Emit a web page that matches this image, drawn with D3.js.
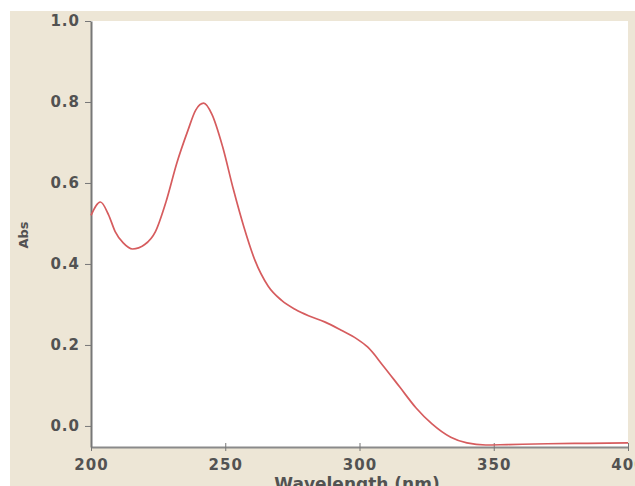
<!doctype html>
<html>
<head>
    <title>UV Spectrum</title>
    <meta charset="utf-8">
    <style>
        body { margin: 0; background: #fff; }
        svg { display: block; }
        .tick text { font-family: "DejaVu Sans", sans-serif; font-weight: bold; fill: #525252; }
    </style>
    <script src="https://d3js.org/d3.v7.min.js"></script>
</head>
<body>
    <svg width="635" height="486"></svg>
    <script>
        /* spectrum */
        var wavelengths = [200, 203.5, 206.5, 209, 212, 215.5, 220, 224, 228, 232, 236, 239, 242, 245, 249, 253, 257, 261, 266, 271, 276, 281, 287, 293, 299, 303, 309, 315, 321, 327, 334, 340, 347, 355, 370, 385, 400];
        var absorbance  = [0.52, 0.553, 0.522, 0.48, 0.452, 0.437, 0.448, 0.48, 0.555, 0.65, 0.728, 0.78, 0.797, 0.77, 0.69, 0.585, 0.49, 0.41, 0.345, 0.31, 0.288, 0.272, 0.257, 0.237, 0.215, 0.195, 0.147, 0.096, 0.045, 0.005, -0.028, -0.042, -0.047, -0.046, -0.044, -0.043, -0.042];
        var xTicks = [200, 250, 300, 350, 400];
        var yTicks = [0.0, 0.2, 0.4, 0.6, 0.8, 1.0];

        var data = wavelengths.map(function(w, i) { return {w: w, a: absorbance[i]}; });

        var svg = d3.select("svg");
        var plotLeft = 91, plotRight = 628, plotTop = 21, plotBottom = 447;

        // beige frame
        svg.append("rect").attr("x", 10).attr("y", 11).attr("width", 625).attr("height", 475).attr("fill", "#ede6d6");
        svg.append("rect").attr("x", plotLeft).attr("y", plotTop).attr("width", plotRight - plotLeft).attr("height", plotBottom - plotTop).attr("fill", "#ffffff");

        var x = d3.scaleLinear().domain([200, 400]).range([plotLeft, plotRight]);
        var y = d3.scaleLinear().domain([-0.052, 1.0]).range([plotBottom, plotTop]);

        var xAxis = svg.append("g")
            .attr("transform", "translate(0," + plotBottom + ")")
            .call(d3.axisBottom(x).tickValues(xTicks).tickSize(4).tickSizeOuter(0).tickFormat(d3.format("d")));
        xAxis.selectAll(".tick line").attr("y1", -4).attr("stroke", "#777");
        xAxis.selectAll(".tick text").attr("font-size", 15).attr("letter-spacing", 1).attr("y", 11).attr("dy", "0.8em");
        xAxis.select(".domain").attr("stroke", "#8a8a8a").attr("stroke-width", 2);

        var yAxis = svg.append("g")
            .attr("transform", "translate(" + plotLeft + ",0)")
            .call(d3.axisLeft(y).tickValues(yTicks).tickSize(6).tickSizeOuter(0).tickFormat(d3.format(".1f")));
        yAxis.selectAll(".tick line").attr("stroke", "#777");
        yAxis.selectAll(".tick text").attr("font-size", 15).attr("x", -11).attr("letter-spacing", 1);
        yAxis.select(".domain").attr("stroke", "#777").attr("stroke-width", 2);

        var line = d3.line()
            .x(function(d) { return x(d.w); })
            .y(function(d) { return y(d.a); })
            .curve(d3.curveMonotoneX);

        svg.append("path")
            .datum(data)
            .attr("fill", "none")
            .attr("stroke", "#d65c5e")
            .attr("stroke-width", 1.7)
            .attr("d", line);

        svg.append("text")
            .attr("transform", "translate(28,235) rotate(-90)")
            .attr("text-anchor", "middle")
            .attr("font-family", "'DejaVu Sans', sans-serif")
            .attr("font-weight", "bold")
            .attr("font-size", 13)
            .attr("fill", "#525252")
            .text("Abs");

        svg.append("text")
            .attr("x", 357).attr("y", 490)
            .attr("text-anchor", "middle")
            .attr("font-family", "'DejaVu Sans', sans-serif")
            .attr("font-weight", "bold")
            .attr("font-size", 17)
            .attr("fill", "#525252")
            .text("Wavelength (nm)");
    </script>
</body>
</html>
